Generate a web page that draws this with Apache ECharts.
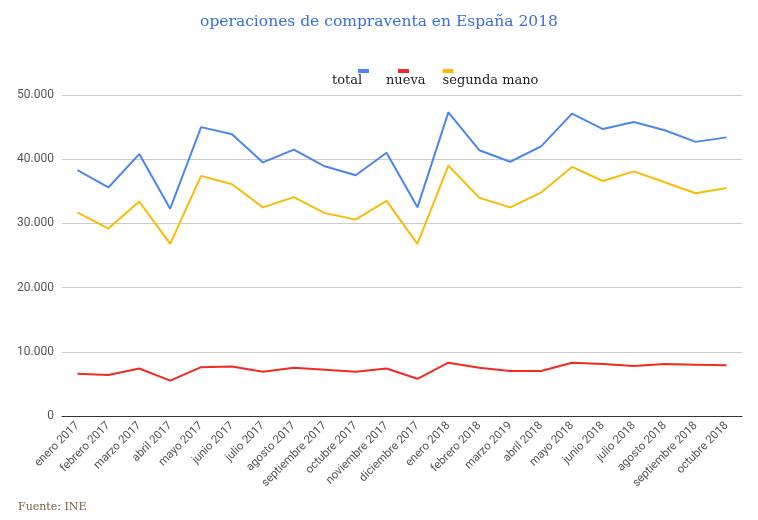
<!DOCTYPE html>
<html>
<head>
<meta charset="utf-8">
<style>
    body{ margin:0; padding:0; }
    #chart{ width:758px; height:520px; }
</style>
</head>
<body>
<div id="chart"></div>
<script src="https://cdn.jsdelivr.net/npm/echarts@6/dist/echarts.min.js"></script>
<script>
var meses = ["enero 2017","febrero 2017","marzo 2017","abril 2017","mayo 2017","junio 2017","julio 2017","agosto 2017","septiembre 2017","octubre 2017","noviembre 2017","diciembre 2017","enero 2018","febrero 2018","marzo 2019","abril 2018","mayo 2018","junio 2018","julio 2018","agosto 2018","septiembre 2018","octubre 2018"];
var total = [38300,35600,40800,32300,45000,43900,39500,41500,38900,37500,41000,32500,47300,41400,39600,42000,47100,44700,45800,44500,42700,43400];
var nueva = [6600,6400,7400,5500,7600,7700,6900,7500,7200,6900,7400,5800,8300,7500,7000,7000,8300,8100,7800,8100,8000,7900];
var segunda = [31700,29200,33400,26800,37400,36100,32500,34100,31600,30600,33500,26800,39000,34000,32500,34800,38800,36600,38100,36400,34700,35500];

var colores = { 'total': '#4a86f0', 'nueva': '#f22a22', 'segunda mano': '#fbbb08' };
var claves = { 'total': 'a', 'nueva': 'b', 'segunda mano': 'c' };

var chart = echarts.init(document.getElementById('chart'));

function serie(name, data){
    return {
        name: name, type: 'line', data: data, symbol: 'none',
        lineStyle: { width: 2, color: colores[name] }, itemStyle: { color: colores[name] }
    };
}

// legend: colour bar above the name, as in the original
var rich = { t: { fontFamily: 'DejaVu Serif', fontSize: 13, color: '#222', lineHeight: 16 } };
rich.sa = { width: 26, height: 4 };
rich.sb = { width: 12, height: 4 };
rich.sc = { width: 0, height: 4 };
for (var k in colores) {
    rich['b' + claves[k]] = { width: 11, height: 4, backgroundColor: colores[k] };
}

chart.setOption({
    animation: false,
    title: {
        text: 'operaciones de compraventa en España 2018',
        left: 'center', top: 9,
        textStyle: { fontFamily: 'DejaVu Serif', fontSize: 15.5, fontWeight: 'normal', color: '#3c6fd4' }
    },
    legend: {
        top: 60, left: 322,
        icon: 'none', itemWidth: 0, itemHeight: 0, itemGap: 12,
        formatter: function(name){
            var c = claves[name];
            return '{s' + c + '|}{b' + c + '|}\n{t|' + name + '}';
        },
        textStyle: { rich: rich, padding: 0 },
        data: ['total', 'nueva', 'segunda mano']
    },
    grid: { left: 62, right: 16, top: 95, bottom: 104 },
    xAxis: {
        type: 'category', data: meses, boundaryGap: true,
        axisLine: { lineStyle: { color: '#333' } },
        axisTick: { show: false },
        axisLabel: { rotate: 45, interval: 0, fontFamily: 'Roboto', fontSize: 11.5, color: '#555' }
    },
    yAxis: {
        type: 'value', min: 0, max: 50000, interval: 10000,
        axisLine: { show: false }, axisTick: { show: false },
        splitLine: { lineStyle: { color: '#ccc' } },
        axisLabel: {
            fontFamily: 'Roboto', fontSize: 12, color: '#555',
            formatter: function(v){ return v === 0 ? '0' : (v/1000) + '.000'; }
        }
    },
    series: [
        serie('total', total),
        serie('nueva', nueva),
        serie('segunda mano', segunda)
    ],
    graphic: [{
        type: 'text', left: 18, top: 502,
        style: { text: 'Fuente: INE', fontFamily: 'DejaVu Serif', fontSize: 11, fill: '#7a6048' }
    }]
});
</script>
</body>
</html>
